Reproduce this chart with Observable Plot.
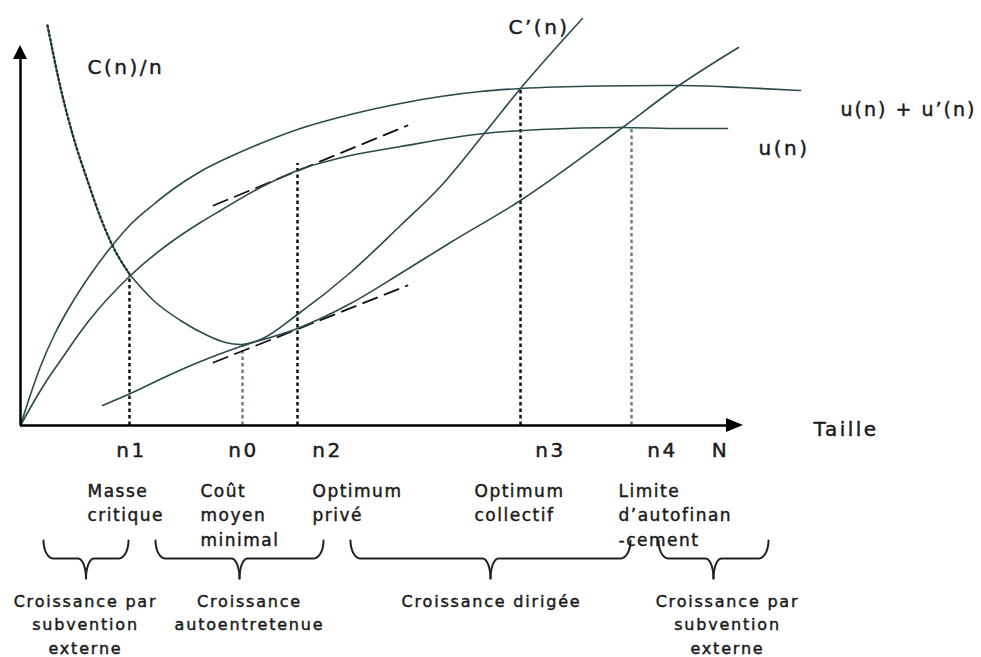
<!DOCTYPE html>
<html><head><meta charset="utf-8">
<script src="https://cdn.jsdelivr.net/npm/d3@7"></script>
<script src="https://cdn.jsdelivr.net/npm/@observablehq/plot@0.6"></script>
<style>html,body{margin:0;padding:0;background:#fff;} svg{display:block}</style>
</head><body><div id="chart"></div>
<script>
// Units: x = taille n, y = valeur (origin at axes crossing)
const uPlusUPrime = [[0,0],[10,31],[20,59],[35,93],[50,120],[70,151],[91,179],[110,201],[133,221],[155,238],[180,254],[210,269],[240,282],[280,297],[330,311],[380,322],[420,329],[460,334],[500,337],[580,339.5],[660,340],[720,338],[780,335]];
const uN = [[0,0],[10,18],[25,43],[40,65],[67,103],[110,150],[150,183],[180,203],[200,215],[240,238],[277,255],[330,270],[380,279],[463,292],[520,296],[600,298],[660,297],[707,297]];
const coutMoyen = [[27,400],[40,338],[53,288],[67,245],[80,208],[91,182],[110,150],[133,125],[160,105],[187,90],[205,83],[220,81]];
const coutMoyenSeuil = 110; // dotted down to n1
const coutMarginal = [[220,81],[240,86],[277,111],[330,153],[380,200],[420,239],[463,291],[500,337],[533,375],[562,407]];
const coutTotal = [[82,20],[110,32],[150,51],[180,64],[220,79],[277,97],[330,122],[380,152],[430,183],[500,225],[602,298],[660,341],[718,378]];
const tangenteU = [[193,220],[387,300]];
const tangenteC = [[193,63],[387,140]];

const repereNoms = ["n1","n0","n2","n3","n4"];
const reperePos = [109,222,277,500,611];
const repereHaut = [150,80,262,338,298];
const repereGris = [false,true,false,false,true];

const etiquettes = ["n1","n0","n2","n3","n4","N"];
const etiquettesPos = [111,223,307,530,642,700];

const descriptions = ["Masse\ncritique","Coût\nmoyen\nminimal","Optimum\nprivé","Optimum\ncollectif","Limite\nd’autofinan\n-cement"];
const descriptionsPos = [67,180,292,454,598];

const phases = ["Croissance par\nsubvention\nexterne","Croissance\nautoentretenue","Croissance dirigée","Croissance par\nsubvention\nexterne"];
const phasesDebut = [23,135,330,638];
const phasesFin = [108,303,610,748];
const phasesTexte = [65,229,471,707];

const courbesNoms = ["C(n)/n","C’(n)","u(n) + u’(n)","u(n)","Taille"];
const courbesNomsX = [67,488,820,738,793];
const courbesNomsY = [358,398,316,277,-4];
const courbesNomsTaille = [20,20,19,20,20];

const axeXFin = 723, axeYFin = 380;

// build tables
const pts = (arr, id) => arr.map(([x,y]) => ({x, y, id}));
const cmDotted = pts(coutMoyen.filter(d => d[0] <= coutMoyenSeuil), "cm");
const cmSolid = pts(coutMoyen.filter(d => d[0] >= coutMoyenSeuil).concat(coutMarginal.slice(1)), "cms");

const reperes = repereNoms.map((k,i) => ({k, x: reperePos[i], top: repereHaut[i], gris: repereGris[i]}));

// brace shapes from the phase spans
const yTop = -115, yMid = -133, yTip = -153, rx = 10, rt = 8;
const braces = [];
phasesDebut.forEach((a, i) => {
  const b = phasesFin[i], c = (a + b) / 2, N = 10;
  const half = (s, id) => {
    const out = [];
    for (let j = 0; j <= N; j++) { const t = j / N * Math.PI / 2;
      out.push({x: s(a, b, rx * (1 - Math.cos(t))), y: yTop + (yMid - yTop) * Math.sin(t), id}); }
    for (let j = 0; j <= N; j++) { const t = j / N * Math.PI / 2;
      out.push({x: s(c, c, -rt + rt * Math.sin(t)), y: yMid + (yTip - yMid) * (1 - Math.cos(t)), id}); }
    return out;
  };
  braces.push(...half((l, r, d) => l + d, "L" + i));
  braces.push(...half((l, r, d) => r - d, "R" + i));
});

const ink = "#1a1a1a", courbe = "#2b4a4c";
const txt = {fill: ink, stroke: ink, strokeWidth: 0.45};

const chart = Plot.plot({
  width: 981, height: 657, margin: 0,
  x: {domain: [-20, 961], axis: null},
  y: {domain: [-232, 425], axis: null},
  style: {fontFamily: "DejaVu Sans, sans-serif", background: "white", overflow: "visible"},
  marks: [
    // guides
    Plot.ruleX(reperes, {x: "x", y1: 0, y2: "top", stroke: d => d.gris ? "#6f8088" : "#111", strokeWidth: 2.5, strokeDasharray: "3.5,3"}),
    // tangents
    Plot.line(pts(tangenteU, "tu").concat(pts(tangenteC, "tc")), {x: "x", y: "y", z: "id", stroke: "#111", strokeWidth: 1.8, strokeDasharray: "15,8"}),
    // curves
    Plot.line(pts(uPlusUPrime, "up"), {x: "x", y: "y", curve: "monotone-x", stroke: courbe, strokeWidth: 1.6}),
    Plot.line(pts(uN, "u"), {x: "x", y: "y", curve: "monotone-x", stroke: courbe, strokeWidth: 1.6}),
    Plot.line(pts(coutTotal, "ct"), {x: "x", y: "y", curve: "monotone-x", stroke: courbe, strokeWidth: 1.6}),
    Plot.line(cmSolid, {x: "x", y: "y", curve: "monotone-x", stroke: courbe, strokeWidth: 1.6}),
    Plot.line(cmDotted, {x: "x", y: "y", curve: "monotone-x", stroke: "#1d3436", strokeWidth: 2.4, strokeDasharray: "2,2.5"}),
    // axes
    Plot.ruleY([0], {x1: 0, x2: axeXFin - 14, stroke: "#000", strokeWidth: 2.5}),
    Plot.ruleX([0], {y1: 0, y2: axeYFin - 12, stroke: "#000", strokeWidth: 2.5}),
    Plot.areaY([{x: axeXFin - 17, a: -7, b: 7}, {x: axeXFin, a: 0, b: 0}], {x: "x", y1: "a", y2: "b", fill: "#000"}),
    Plot.areaX([{y: axeYFin - 14, a: -7, b: 7}, {y: axeYFin, a: 0, b: 0}], {y: "y", x1: "a", x2: "b", fill: "#000"}),
    // braces
    Plot.line(braces, {x: "x", y: "y", z: "id", stroke: "#222", strokeWidth: 2}),
    // labels
    Plot.text(courbesNoms.map((t,i) => ({t, x: courbesNomsX[i], y: courbesNomsY[i], s: courbesNomsTaille[i]})),
      {x: "x", y: "y", text: "t", fontSize: d => d.s, textAnchor: "start", ...txt}),
    Plot.text(etiquettes.map((t,i) => ({t, x: etiquettesPos[i]})), {x: "x", y: -24.6, text: "t", fontSize: 20, ...txt}),
    Plot.text(descriptions.map((t,i) => ({t, x: descriptionsPos[i]})), {x: "x", y: -54, text: "t", fontSize: 17, textAnchor: "start", lineAnchor: "top", lineHeight: 1.44, ...txt}),
    Plot.text(phases.map((t,i) => ({t, x: phasesTexte[i]})), {x: "x", y: -165.6, text: "t", fontSize: 16, lineAnchor: "top", lineHeight: 1.44, ...txt})
  ]
});
document.getElementById("chart").appendChild(chart);
// letter spacing per text size
const ls = {20: 2.5, 19: 2, 17: 1.5, 16: 1.8};
d3.select(chart).selectAll("text").each(function() {
  let el = this, fs = null;
  while (el && el !== chart && fs == null) {
    const a = el.getAttribute && el.getAttribute("font-size");
    if (a) fs = parseFloat(a);
    el = el.parentNode;
  }
  if (fs != null && ls[fs] != null) this.style.letterSpacing = ls[fs] + "px";
});
</script></body></html>
